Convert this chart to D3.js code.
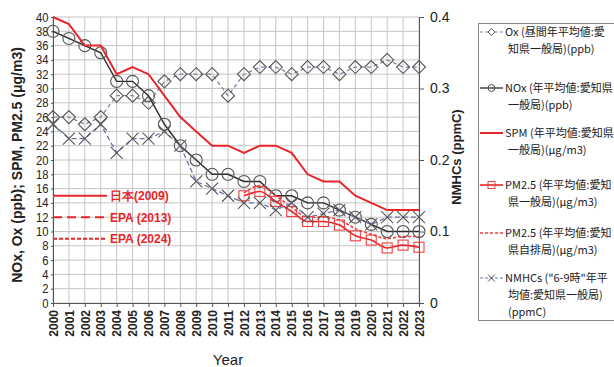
<!DOCTYPE html>
<html>
<head>
<meta charset="utf-8">
<script src="https://cdn.jsdelivr.net/npm/d3@7"></script>
<style>
  body { margin: 0; background: #fff; }
  text { font-family: "Liberation Sans", Arial, sans-serif; }
</style>
</head>
<body>
<svg id="chart" width="614" height="367"></svg>
<script>
// data
const years = [2000, 2001, 2002, 2003, 2004, 2005, 2006, 2007, 2008, 2009, 2010, 2011,
               2012, 2013, 2014, 2015, 2016, 2017, 2018, 2019, 2020, 2021, 2022, 2023];
const ox   = [26, 26, 25, 26, 29, 29, 28, 31, 32, 32, 32, 29, 32, 33, 33, 32, 33, 33, 32, 33, 33, 34, 33, 33];
const nox  = [38, 37, 36, 35, 31, 31, 29, 25, 22, 20, 18, 18, 17, 17, 15, 15, 14, 14, 13, 12, 11, 10, 10, 10];
const spm  = [40, 39, 36, 36, 32, 33, 32, 29, 26, 24, 22, 22, 21, 22, 22, 21, 18, 17, 17, 15, 14, 13, 13, 13];
const pmYears = [2012, 2013, 2014, 2015, 2016, 2017, 2018, 2019, 2020, 2021, 2022, 2023];
const pmGeneral  = [15.0, 15.6, 14.2, 12.8, 11.4, 11.4, 10.9, 9.4, 8.8, 7.7, 8.1, 7.8];
const pmRoadside = [15.4, 16.4, 15.0, 13.4, 12.0, 12.0, 11.6, 10.4, 9.6, 9.0, 9.3, 9.3];
const nmhc = [0.25, 0.23, 0.23, 0.25, 0.21, 0.23, 0.23, 0.24, 0.22, 0.17, 0.16, 0.15,
              0.14, 0.14, 0.13, 0.14, 0.12, 0.125, 0.13, 0.12, 0.11, 0.12, 0.12, 0.12];

const leftTicks = [0, 2, 4, 6, 8, 10, 12, 14, 16, 18, 20, 22, 24, 26, 28, 30, 32, 34, 36, 38, 40];
const rightTicks = [0, 0.1, 0.2, 0.3, 0.4];

// standards drawn as short reference lines
const standards = [
  { label: "日本(2009)", value: 15, dash: null },
  { label: "EPA (2013)", value: 12, dash: "9,5" },
  { label: "EPA (2024)", value: 9, dash: "4,2" }
];

const legendItems = [
  { lines: ["Ox (昼間年平均値:愛", "知県一般局)(ppb)"], key: "ox" },
  { lines: ["NOx (年平均値:愛知県", "一般局)(ppb)"], key: "nox" },
  { lines: ["SPM (年平均値:愛知県", "一般局)(μg/m3)"], key: "spm" },
  { lines: ["PM2.5 (年平均値:愛知", "県一般局)(μg/m3)"], key: "pm" },
  { lines: ["PM2.5 (年平均値:愛知", "県自排局)(μg/m3)"], key: "pmr" },
  { lines: ["NMHCs (\"6-9時\"年平", "均値:愛知県一般局)", "(ppmC)"], key: "nmhc" }
];

const svg = d3.select("#chart");
const pLeft = 53, pRight = 419, pTop = 17, pBottom = 303;

const x = d3.scaleLinear().domain([2000, 2023]).range([pLeft, pRight]);
const y = d3.scaleLinear().domain([0, 40]).range([pBottom, pTop]);
const yR = d3.scaleLinear().domain([0, 0.4]).range([pBottom, pTop]);

// grid
const grid = svg.append("g").attr("stroke", "#c4c4c4").attr("stroke-width", 1);
grid.selectAll(".v").data(years).enter().append("line")
  .attr("x1", d => x(d)).attr("x2", d => x(d)).attr("y1", pTop).attr("y2", pBottom);
grid.selectAll(".h").data(leftTicks).enter().append("line")
  .attr("x1", pLeft).attr("x2", pRight).attr("y1", d => y(d)).attr("y2", d => y(d));

// axes
const axL = svg.append("g").attr("transform", `translate(${pLeft},0)`)
  .call(d3.axisLeft(y).tickValues(leftTicks).tickSize(2).tickPadding(3));
axL.selectAll("text")
  .style("font-size", "12.5px").attr("fill", "#222")
  .attr("transform", "scale(0.9,1)");

const axR = svg.append("g").attr("transform", `translate(${pRight},0)`)
  .call(d3.axisRight(yR).tickValues(rightTicks).tickSize(5).tickPadding(6)
    .tickFormat(d => d === 0 ? "0" : d3.format(".1f")(d)));
axR.selectAll("text").style("font-size", "14px").attr("fill", "#222");

const axB = svg.append("g").attr("transform", `translate(0,${pBottom})`)
  .call(d3.axisBottom(x).tickValues(years).tickSize(4).tickFormat(d3.format("d")));
axB.selectAll("text")
  .attr("transform", "rotate(-90)")
  .attr("x", -7).attr("y", 0).attr("dy", "0.35em")
  .style("text-anchor", "end")
  .style("font-size", "12px").style("font-weight", "bold").attr("fill", "#222");

svg.selectAll(".domain, .tick line").attr("stroke", "#555");

// axis titles
svg.append("text")
  .attr("transform", `translate(22,${(pTop + pBottom) / 2 + 5}) rotate(-90)`)
  .attr("text-anchor", "middle")
  .style("font-size", "14px").style("font-weight", "bold").attr("fill", "#222")
  .text("NOx, Ox (ppb); SPM, PM2.5 (μg/m3)");

svg.append("text")
  .attr("transform", `translate(461,157) rotate(-90)`)
  .attr("text-anchor", "middle")
  .style("font-size", "13px").style("font-weight", "bold").attr("fill", "#222")
  .text("NMHCs (ppmC)");

svg.append("text")
  .attr("x", 228).attr("y", 365).attr("text-anchor", "middle")
  .style("font-size", "15px").attr("fill", "#222")
  .text("Year");

// standard reference lines
const std = svg.append("g");
standards.forEach(s => {
  std.append("line")
    .attr("x1", x(2000)).attr("x2", 107)
    .attr("y1", y(s.value)).attr("y2", y(s.value))
    .attr("stroke", "#e8262a").attr("stroke-width", 2)
    .attr("stroke-dasharray", s.dash);
  std.append("text")
    .attr("x", 110).attr("y", y(s.value)).attr("dy", "0.36em")
    .style("font-size", "12px").style("font-weight", "bold").attr("fill", "#e8262a")
    .text(s.label);
});

// series
const lineL = (xs, vals, curve) => d3.line().curve(curve || d3.curveLinear)
  .x((d, i) => x(xs[i])).y(d => y(d))(vals);
const lineR = d3.line().x((d, i) => x(years[i])).y(d => yR(d));

const diamond = (g, cx, cy, r) => g.append("path")
  .attr("d", `M${cx},${cy - r}L${cx + r},${cy}L${cx},${cy + r}L${cx - r},${cy}Z`);
const cross = (g, cx, cy, r) => g.append("path")
  .attr("d", `M${cx - r},${cy - r}L${cx + r},${cy + r}M${cx - r},${cy + r}L${cx + r},${cy - r}`);

const series = svg.append("g");

// Ox
series.append("path").attr("d", lineL(years, ox))
  .attr("fill", "none").attr("stroke", "#7a86a2").attr("stroke-width", 1.3).attr("stroke-dasharray", "4,3");
const gOx = series.append("g").attr("fill", "none").attr("stroke", "#555").attr("stroke-width", 1.1);
ox.forEach((v, i) => diamond(gOx, x(years[i]), y(v), 6.5));

// NOx
series.append("path").attr("d", lineL(years, nox))
  .attr("fill", "none").attr("stroke", "#2a2a2a").attr("stroke-width", 1.4);
series.append("g").selectAll("circle").data(nox).enter().append("circle")
  .attr("cx", (d, i) => x(years[i])).attr("cy", d => y(d)).attr("r", 6)
  .attr("fill", "none").attr("stroke", "#555").attr("stroke-width", 1.1);

// SPM
series.append("path").attr("d", lineL(years, spm))
  .attr("fill", "none").attr("stroke", "#e8262a").attr("stroke-width", 2);

// PM2.5 roadside
series.append("path").attr("d", lineL(pmYears, pmRoadside, d3.curveMonotoneX))
  .attr("fill", "none").attr("stroke", "#f03c3c").attr("stroke-width", 1.6).attr("stroke-dasharray", "3,2");

// PM2.5 general
series.append("path").attr("d", lineL(pmYears, pmGeneral, d3.curveMonotoneX))
  .attr("fill", "none").attr("stroke", "#e8262a").attr("stroke-width", 1.6);
series.append("g").selectAll("rect").data(pmGeneral).enter().append("rect")
  .attr("x", (d, i) => x(pmYears[i]) - 5).attr("y", d => y(d) - 5)
  .attr("width", 10).attr("height", 10)
  .attr("fill", "none").attr("stroke", "#f04040").attr("stroke-width", 1.1);

// NMHCs (right axis)
series.append("path").attr("d", lineR(nmhc))
  .attr("fill", "none").attr("stroke", "#6a74a8").attr("stroke-width", 1.3).attr("stroke-dasharray", "5,3");
const gN = series.append("g").attr("fill", "none").attr("stroke", "#555").attr("stroke-width", 1.1);
nmhc.forEach((v, i) => cross(gN, x(years[i]), yR(v), 6));

// legend
const lg = svg.append("g");
lg.append("rect").attr("x", 478.5).attr("y", 23.5).attr("width", 145).attr("height", 297)
  .attr("fill", "#fff").attr("stroke", "#888");

const rows = [32, 88, 133, 185, 233, 278];
legendItems.forEach((it, k) => {
  const ly = rows[k];
  const g = lg.append("g");
  const ln = g.append("line").attr("x1", 480).attr("x2", 503).attr("y1", ly).attr("y2", ly);
  const mx = 491.5;
  if (it.key === "ox") {
    ln.attr("stroke", "#7a86a2").attr("stroke-width", 1.2).attr("stroke-dasharray", "3,2");
    diamond(g, mx, ly, 3.5).attr("fill", "#fff").attr("stroke", "#555");
  } else if (it.key === "nox") {
    ln.attr("stroke", "#2a2a2a").attr("stroke-width", 1.3);
    g.append("circle").attr("cx", mx).attr("cy", ly).attr("r", 3.5).attr("fill", "none").attr("stroke", "#555");
  } else if (it.key === "spm") {
    ln.attr("stroke", "#e8262a").attr("stroke-width", 2);
  } else if (it.key === "pm") {
    ln.attr("stroke", "#e8262a").attr("stroke-width", 1.6);
    g.append("rect").attr("x", mx - 3.5).attr("y", ly - 3.5).attr("width", 7).attr("height", 7)
      .attr("fill", "none").attr("stroke", "#f04040");
  } else if (it.key === "pmr") {
    ln.attr("stroke", "#f03c3c").attr("stroke-width", 1.6).attr("stroke-dasharray", "3,2");
  } else {
    ln.attr("stroke", "#6a74a8").attr("stroke-width", 1.2).attr("stroke-dasharray", "3,2");
    cross(g, mx, ly, 3.5).attr("stroke", "#555").attr("fill", "none");
  }
  it.lines.forEach((t, j) => {
    g.append("text")
      .attr("x", j === 0 ? 505 : 508).attr("y", ly + j * 17).attr("dy", "0.36em")
      .style("font-family", "'Noto Sans CJK JP', sans-serif")
      .style("font-size", "11px").attr("fill", "#222")
      .text(t);
  });
});
</script>
</body>
</html>
